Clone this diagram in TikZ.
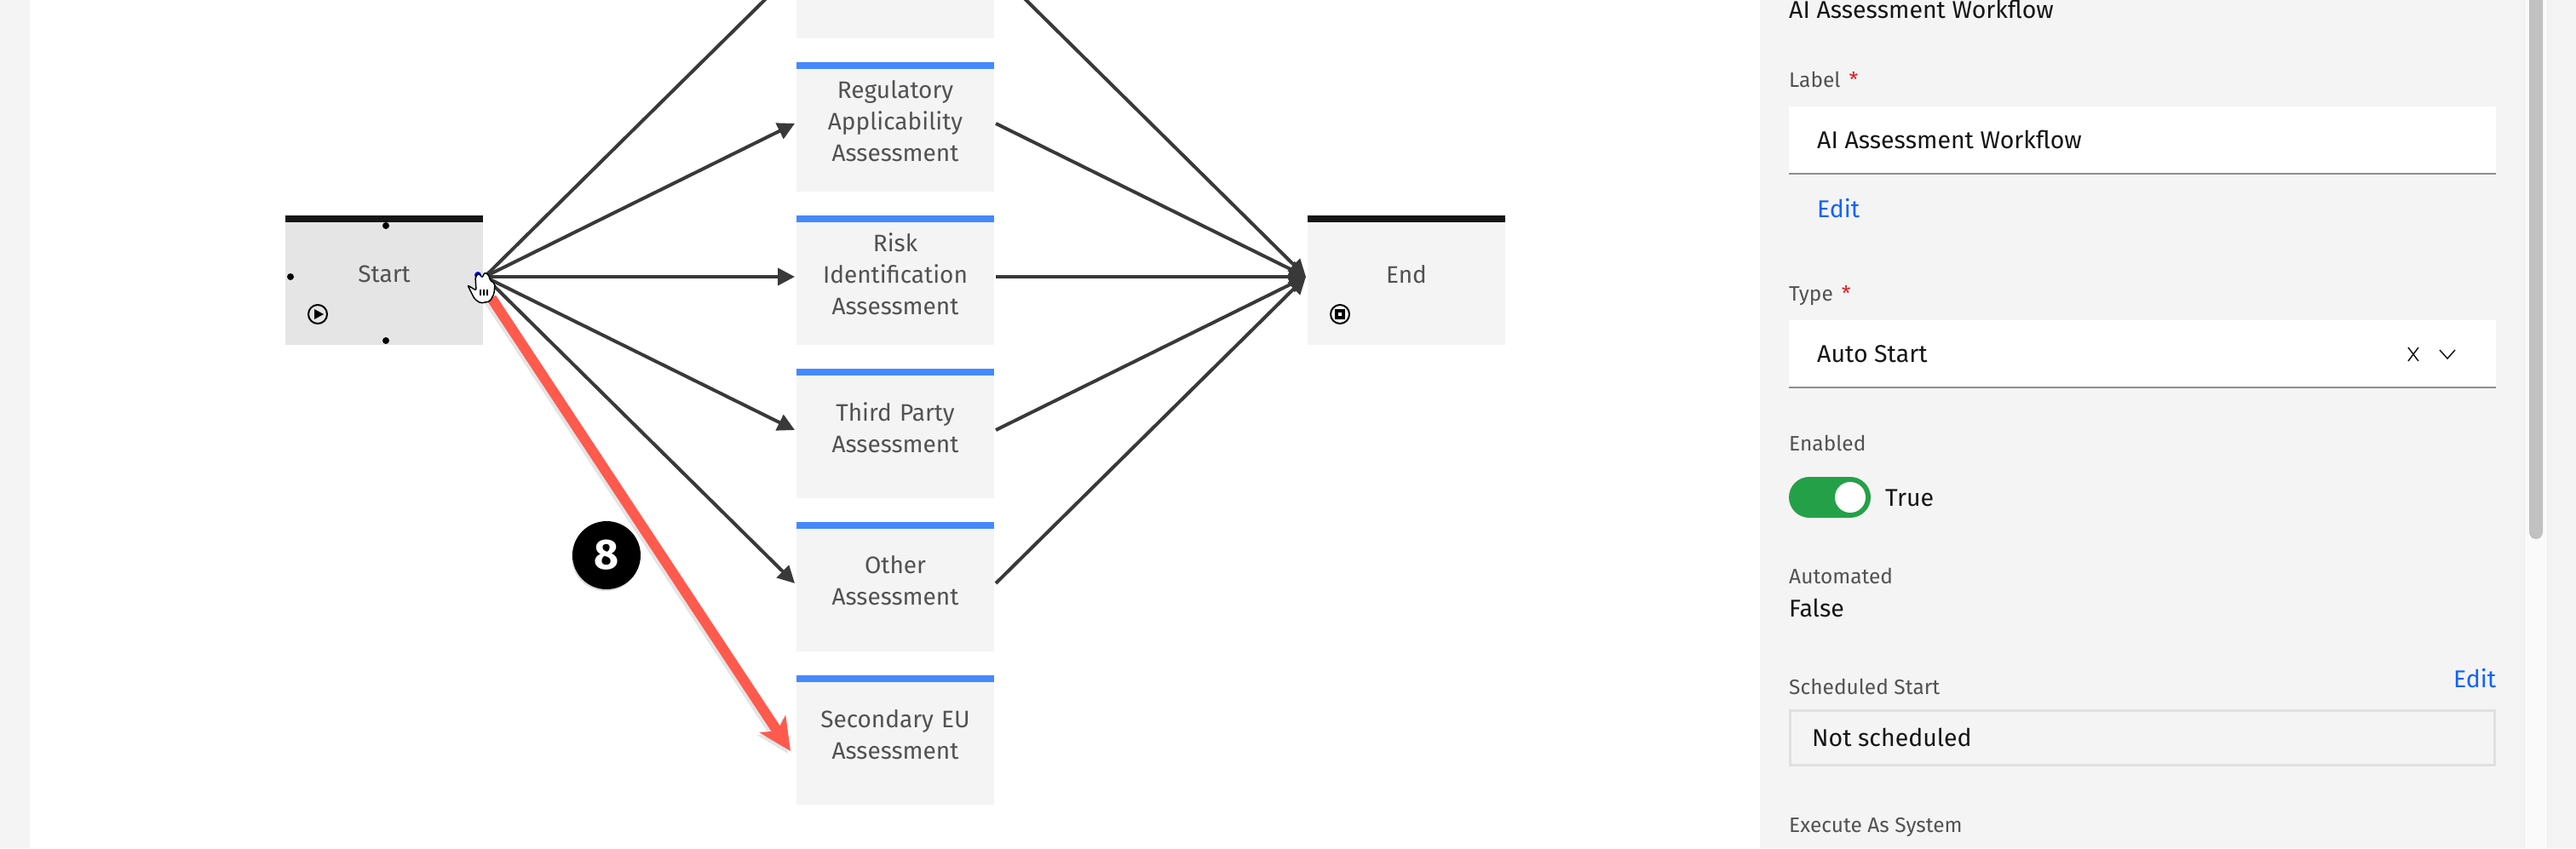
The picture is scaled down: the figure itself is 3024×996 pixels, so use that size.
\documentclass[tikz,border=0pt]{standalone}
\usepackage{fontspec}
\setmainfont{Fira Sans}
\usetikzlibrary{positioning, arrows.meta}
\definecolor{pagegray}{HTML}{F4F4F4}
\definecolor{startgray}{HTML}{E5E5E5}
\definecolor{barblue}{HTML}{4589FF}
\definecolor{barblack}{HTML}{161616}
\definecolor{flowgray}{HTML}{393939}
\definecolor{labelgray}{HTML}{525252}
\definecolor{linkblue}{HTML}{0F62FE}
\definecolor{calloutred}{HTML}{FF5A4D}
\definecolor{togglegreen}{HTML}{24A148}
\definecolor{trackgray}{HTML}{FAFAFA}
\definecolor{thumbgray}{HTML}{C1C1C1}
\definecolor{rulegray}{HTML}{8D8D8D}
\definecolor{starred}{HTML}{DA1E28}

\begin{document}
\begin{tikzpicture}[
    x=1pt, y=-1pt,
    task/.style={fill=pagegray, draw=none, outer sep=0pt, inner sep=0pt, minimum width=232pt,
        minimum height=152pt, text width=226pt, align=center, text=labelgray,
        font=\fontsize{28}{37}\selectfont,
        execute at end node={\\[-23pt]\mbox{}},
        path picture={\fill[#1] (path picture bounding box.north west)
            rectangle ([yshift=-8pt]path picture bounding box.north east);}},
    task/.default=barblue,
    flow/.style={draw=flowgray, line width=4pt, -{Stealth[length=20pt, width=20pt, inset=0pt]}},
    callout/.style={draw=calloutred, line width=12pt, -{Stealth[length=38pt, width=36pt, inset=10pt]}},
    calloutshade/.style={draw=black!30, opacity=0.35, line width=12pt, -{Stealth[length=38pt, width=36pt, inset=10pt]}},
    badge/.style={circle, fill=black, text=white, minimum size=80pt, inner sep=0pt,
        font=\fontsize{50}{50}\selectfont\bfseries},
    caption/.style={anchor=base west, inner sep=0pt, text=labelgray, font=\fontsize{24.5}{28}\selectfont},
    entry/.style={anchor=base west, inner sep=0pt, text=barblack, font=\fontsize{28.5}{32}\selectfont},
    link/.style={anchor=base west, inner sep=0pt, text=linkblue, font=\fontsize{28.5}{32}\selectfont}]

\useasboundingbox (0,0) rectangle (3024,996);
\clip (0,0) rectangle (3024,996);

% Page and side panel
\fill[white] (0,0) rectangle (3024,996);
\fill[pagegray] (0,0) rectangle (35,996);
\fill[pagegray] (2066,0) rectangle (3024,996);
\fill[trackgray] (2963,0) rectangle (2990,996);
\draw[black!8, line width=1pt] (2963,0) -- (2963,996) (2990,0) -- (2990,996);
\fill[thumbgray, rounded corners=8pt] (2969,-40) rectangle (2985,633);

% Workflow nodes
\node[task=barblack, fill=startgray] (start) at (451,329) {Start};
\node[task, right=368pt of start] (risk) {Risk\\Identification\\Assessment};
\node[task, above=28pt of risk] (regulatory) {Regulatory\\Applicability\\Assessment};
\node[task, above=28pt of regulatory] (upper) {};
\node[task, below=28pt of risk] (party) {Third Party\\Assessment};
\node[task, below=28pt of party] (other) {Other\\Assessment};
\node[task, below=28pt of other] (secondary) {Secondary EU\\Assessment};
\node[task=barblack, right=368pt of risk] (finish) {End};

% Connectors
\foreach \target in {upper, regulatory, risk, party, other}
    \draw[flow] ([xshift=2pt, yshift=4pt]start.east) -- ([xshift=-2pt, yshift=4pt]\target.west);
\foreach \source in {upper, regulatory, risk, party, other}
    \draw[flow] ([xshift=2pt, yshift=4pt]\source.east) -- ([xshift=-2pt, yshift=4pt]finish.west);

% Selected node handles and icons
\foreach \handle in {(453,265), (341,325), (453,400)}
    \fill[black] \handle circle (4);
\draw[black, line width=2pt] (373,369) circle (11);
\fill[black] (369,363) -- (380,369) -- (369,375) -- cycle;
\draw[black, line width=2pt] (1573,369) circle (11);
\fill[black] (1567,363) rectangle (1579,375);
\fill[white] (1571,367) rectangle (1575,371);

% Red callout
\draw[calloutshade] ([xshift=7pt, yshift=-24pt]start.east) -- ([xshift=-10pt, yshift=-16pt]secondary.west);
\draw[callout] ([xshift=10pt, yshift=-21pt]start.east) -- ([xshift=-7pt, yshift=-13pt]secondary.west);
\fill[black!30, opacity=0.5] (711,654) circle (40);
\node[badge] (eight) at (712,652) {8};

% Hand cursor
\fill[blue] (561,323) circle (4);
\draw[fill=white, draw=black, line width=1.5pt, rounded corners=2pt] (549,335) -- (559,341) -- (558,325)
    -- (562,321) -- (566,326) -- (569,320) -- (574,323) -- (575,329) -- (581,333) -- (580,345)
    -- (575,354) -- (564,356) -- (557,351) -- cycle;
\draw[black, line width=1.5pt] (564,340) -- (564,347) (568,340) -- (568,347) (572,340) -- (572,347);

% Side panel fields
\node[entry] (title) at (2100,21) {AI Assessment Workflow};
\node[caption] (labelcap) at (2100,102) {Label\hspace{10pt}\textcolor{starred}{*}};
\fill[white] (2100,125) rectangle (2930,204);
\draw[rulegray, line width=2pt] (2100,204) -- (2930,204);
\node[entry] (labelval) at (2133,174) {AI Assessment Workflow};
\node[link] (labeledit) at (2133,255) {Edit};
\node[caption] (typecap) at (2100,353) {Type\hspace{10pt}\textcolor{starred}{*}};
\fill[white] (2100,376) rectangle (2930,455);
\draw[rulegray, line width=2pt] (2100,455) -- (2930,455);
\node[entry] (typeval) at (2133,425) {Auto Start};
\draw[barblack, line width=1.5pt] (2827,408) -- (2839,424) (2839,408) -- (2827,424);
\draw[barblack, line width=1.5pt] (2864,411) -- (2873,421) -- (2882,411);
\node[caption] (enabledcap) at (2100,529) {Enabled};
\fill[togglegreen, rounded corners=24pt] (2100,560) rectangle (2196,608);
\fill[white] (2172,584) circle (18);
\node[entry] (enabledval) at (2213,594) {True};
\node[caption] (autocap) at (2100,685) {Automated};
\node[entry] (autoval) at (2100,724) {False};
\node[caption] (schedcap) at (2100,815) {Scheduled Start};
\node[link] (schededit) at (2880,807) {Edit};
\draw[black!12, line width=3pt] (2101,834) rectangle (2928,898);
\node[entry] (schedval) at (2127,876) {Not scheduled};
\node[caption] (execcap) at (2100,977) {Execute As System};

\end{tikzpicture}
\end{document}
